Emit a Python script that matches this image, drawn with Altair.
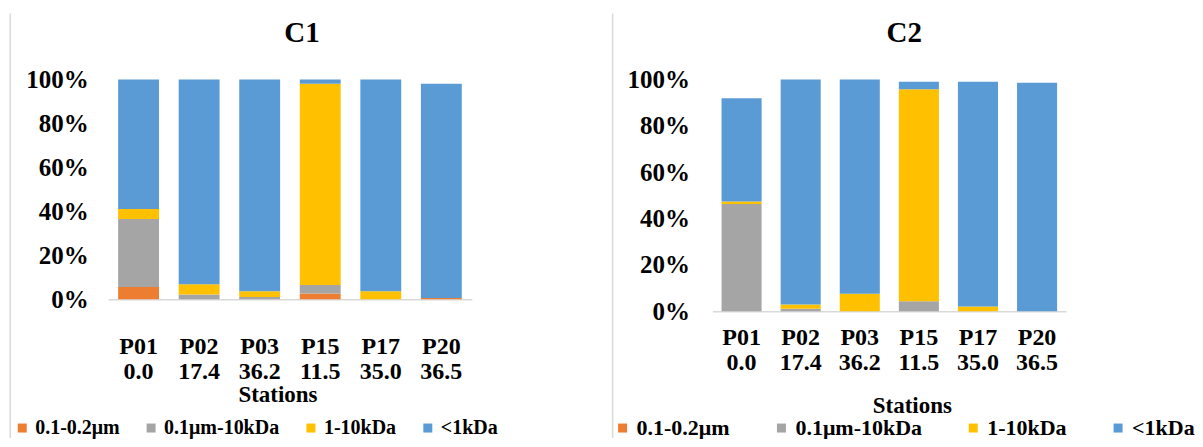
import altair as alt
import pandas as pd

stations = ["P01", "P02", "P03", "P15", "P17", "P20"]
salinity = ["0.0", "17.4", "36.2", "11.5", "35.0", "36.5"]
fractions = ["0.1-0.2μm", "0.1μm-10kDa", "1-10kDa", "<1kDa"]
colors = ["#ED7D31", "#A5A5A5", "#FFC000", "#5B9BD5"]

# C1 (% of total)
c1_small = [5.5, 0.0, 0.0, 2.6, 0.0, 0.5]
c1_mid = [31.0, 2.1, 1.0, 3.8, 0.0, 0.0]
c1_kda = [4.5, 4.7, 2.6, 91.6, 3.6, 0.0]
c1_low = [59.0, 93.2, 96.4, 2.0, 96.4, 97.5]

# C2 (% of total)
c2_small = [0.0, 0.0, 0.0, 0.0, 0.0, 0.0]
c2_mid = [46.2, 1.0, 0.0, 4.3, 0.0, 0.0]
c2_kda = [1.1, 1.9, 7.5, 91.4, 2.0, 0.0]
c2_low = [44.6, 97.1, 92.5, 3.3, 97.0, 98.6]

FONT = "Liberation Serif"


def make_df(series):
    rows = []
    for fi, (fname, vals) in enumerate(zip(fractions, series)):
        for st, v in zip(stations, vals):
            rows.append({"station": st, "fraction": fname, "idx": fi, "value": v})
    return pd.DataFrame(rows)


def panel(title, series, width, height, pad_in, pad_out, title_x, ylab_pad,
          row1_y, row2_y, xtitle_x, xtitle_y, legend_x, legend_y, col_pad,
          legend_fs, border_x, border_y2):
    df = make_df(series)
    xenc = alt.X("station:N", sort=stations,
                 scale=alt.Scale(paddingInner=pad_in, paddingOuter=pad_out),
                 axis=alt.Axis(labels=False, ticks=False, title=None,
                               domainColor="#d9d9d9", domainWidth=1.5))
    bars = alt.Chart(df).mark_bar().encode(
        x=xenc,
        y=alt.Y("value:Q", stack="zero",
                scale=alt.Scale(domain=[0, 100], nice=False),
                axis=alt.Axis(values=[0, 20, 40, 60, 80, 100],
                              labelExpr="datum.value + '%'", domain=False,
                              ticks=False, grid=False, labelFont=FONT,
                              labelFontSize=25, labelFontWeight="bold",
                              labelColor="#000", labelPadding=ylab_pad),
                title=None),
        color=alt.Color("fraction:N",
                        scale=alt.Scale(domain=fractions, range=colors),
                        legend=alt.Legend(orient="none", legendX=legend_x,
                                          legendY=legend_y, direction="horizontal",
                                          columns=4, title=None, symbolType="square",
                                          symbolSize=81, symbolStrokeWidth=0,
                                          labelFont=FONT, labelFontSize=legend_fs,
                                          labelFontWeight="bold", labelColor="#000",
                                          columnPadding=col_pad, labelOffset=3,
                                          labelLimit=0)),
        order=alt.Order("idx:Q"),
    )
    ldf = pd.DataFrame({"station": stations, "sal": salinity})
    txt = dict(font=FONT, fontSize=24, fontWeight="bold", baseline="middle",
               align="center", color="#000")
    row1 = alt.Chart(ldf).mark_text(**txt).encode(
        x=alt.X("station:N", sort=stations), text="station:N", y=alt.value(row1_y))
    row2 = alt.Chart(ldf).mark_text(**txt).encode(
        x=alt.X("station:N", sort=stations), text="sal:N", y=alt.value(row2_y))
    tdf = pd.DataFrame({"t": [title], "xt": ["Stations"]})
    ttl = alt.Chart(tdf).mark_text(font=FONT, fontSize=29, fontWeight="bold",
                                   baseline="middle", align="center",
                                   color="#000").encode(
        text="t:N", x=alt.value(title_x), y=alt.value(-46))
    xttl = alt.Chart(tdf).mark_text(font=FONT, fontSize=23, fontWeight="bold",
                                    baseline="middle", align="center",
                                    color="#000").encode(
        text="xt:N", x=alt.value(xtitle_x), y=alt.value(xtitle_y))
    border = alt.Chart(tdf).mark_rule(color="#d9d9d9", strokeWidth=1.5).encode(
        x=alt.value(border_x), y=alt.value(-66), y2=alt.value(border_y2))
    return alt.layer(bars, row1, row2, xttl, ttl, border).properties(
        width=width, height=height)


left = panel("C1", [c1_small, c1_mid, c1_kda, c1_low], 364, 220, 0.325, 0.165,
             194, 20, 268, 293, 170, 316, -96, 339, 21, 20, -98, 359)

right = panel("C2", [c2_small, c2_mid, c2_kda, c2_low], 354, 232, 0.322, 0.153,
              192, 23, 259, 284, 200, 327, -101, 338, 40, 22, -100, 359)

chart = alt.hconcat(left, right, spacing=241, bounds="flush").resolve_scale(
    color="independent", x="independent", y="independent"
).properties(padding={"left": 1.25, "top": 4.25, "right": 0, "bottom": 0}
).configure_view(stroke=None)

chart.save("out.html", embed_options={"renderer": "svg", "actions": False})
